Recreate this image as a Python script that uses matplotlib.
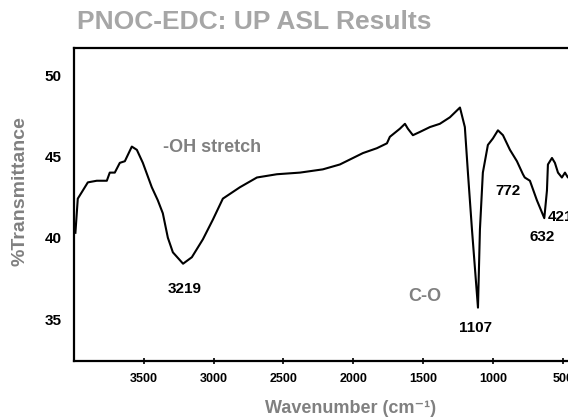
import matplotlib.pyplot as plt

# IR spectrum (wavenumber in cm-1, %T)
wavenumber = [3990, 3973, 3944, 3901, 3837, 3765, 3744, 3708, 3672, 3636,
              3586, 3550, 3507, 3443, 3400, 3364, 3328, 3292, 3219, 3156,
              3077, 3006, 2934, 2812, 2690, 2547, 2382, 2218, 2096, 1931,
              1831, 1759, 1738, 1666, 1630, 1609, 1573, 1523, 1451, 1380,
              1308, 1236, 1201, 1179, 1150, 1107, 1093, 1072, 1036, 1000,
              964, 928, 878, 828, 785, 772, 735, 685, 632, 613,
              606, 577, 556, 534, 506, 484, 463, 440]
transmittance = [40.3, 42.4, 42.8, 43.4, 43.5, 43.5, 44.0, 44.0, 44.6, 44.7,
                 45.6, 45.4, 44.6, 43.1, 42.3, 41.5, 40.0, 39.1, 38.4, 38.8,
                 39.9, 41.1, 42.4, 43.1, 43.7, 43.9, 44.0, 44.2, 44.5, 45.2,
                 45.5, 45.8, 46.2, 46.7, 47.0, 46.7, 46.3, 46.5, 46.8, 47.0,
                 47.4, 48.0, 46.8, 44.0, 40.5, 35.7, 40.5, 44.0, 45.7, 46.1,
                 46.6, 46.3, 45.4, 44.7, 43.9, 43.7, 43.5, 42.3, 41.2, 42.9,
                 44.5, 44.9, 44.6, 44.0, 43.7, 44.0, 43.7, 43.9]

x_ticks = [3500, 3000, 2500, 2000, 1500, 1000, 500]
y_ticks = [35, 40, 45, 50]

# peak labels: text, x, y
peak_labels = ["3219", "1107", "772", "632", "421"]
peak_x = [3206, 1122, 893, 649, 606]
peak_y = [36.85, 34.45, 42.87, 40.04, 41.27]

font = ["Liberation Sans", "DejaVu Sans"]
gray = "#808080"

fig = plt.figure(figsize=(5.68, 4.17), dpi=100)
ax = fig.add_axes([0.1303, 0.1343, 0.885, 0.7506])

ax.plot(wavenumber, transmittance, color="black", linewidth=1.5)
ax.set_xlim(4000, 400)
ax.set_ylim(32.42, 51.66)

ax.set_xticks(x_ticks)
ax.set_yticks(y_ticks)
ax.tick_params(axis="x", direction="inout", length=4, width=1.2, pad=7,
               labelsize=9)
ax.tick_params(axis="y", length=0, pad=9, labelsize=11)
for lab in ax.get_xticklabels() + ax.get_yticklabels():
    lab.set_fontweight("bold")
    lab.set_fontfamily(font)

for side in ["left", "bottom", "top"]:
    ax.spines[side].set_linewidth(1.6)
ax.spines["right"].set_visible(False)

fig.text(351 / 568, 1 - 413 / 417, "Wavenumber (cm\u207b\u00b9)", color=gray,
         fontsize=13, fontweight="bold", family=font, ha="center",
         va="baseline")
fig.text(20 / 568, 1 - 191 / 417, "%Transmittance", color=gray, fontsize=14,
         fontweight="bold", family=font, rotation=90, ha="center",
         va="center")
fig.text(0.136, 0.947, "PNOC-EDC: UP ASL Results", color="#a6a6a6",
         fontsize=19, fontweight="bold", family=font,
         ha="left", va="center")

ax.text(3364, 45.57, "-OH stretch", color=gray, fontsize=13,
        fontweight="bold", family=font, ha="left", va="center")
ax.text(1487, 36.36, "C-O", color=gray, fontsize=13, fontweight="bold",
        family=font, ha="center", va="center")

for txt, px, py in zip(peak_labels, peak_x, peak_y):
    ha = "left" if txt == "421" else "center"
    ax.text(px, py, txt, fontsize=11, fontweight="bold",
            family=font, ha=ha, va="center", clip_on=False)

fig.savefig("out.png", dpi=100)
